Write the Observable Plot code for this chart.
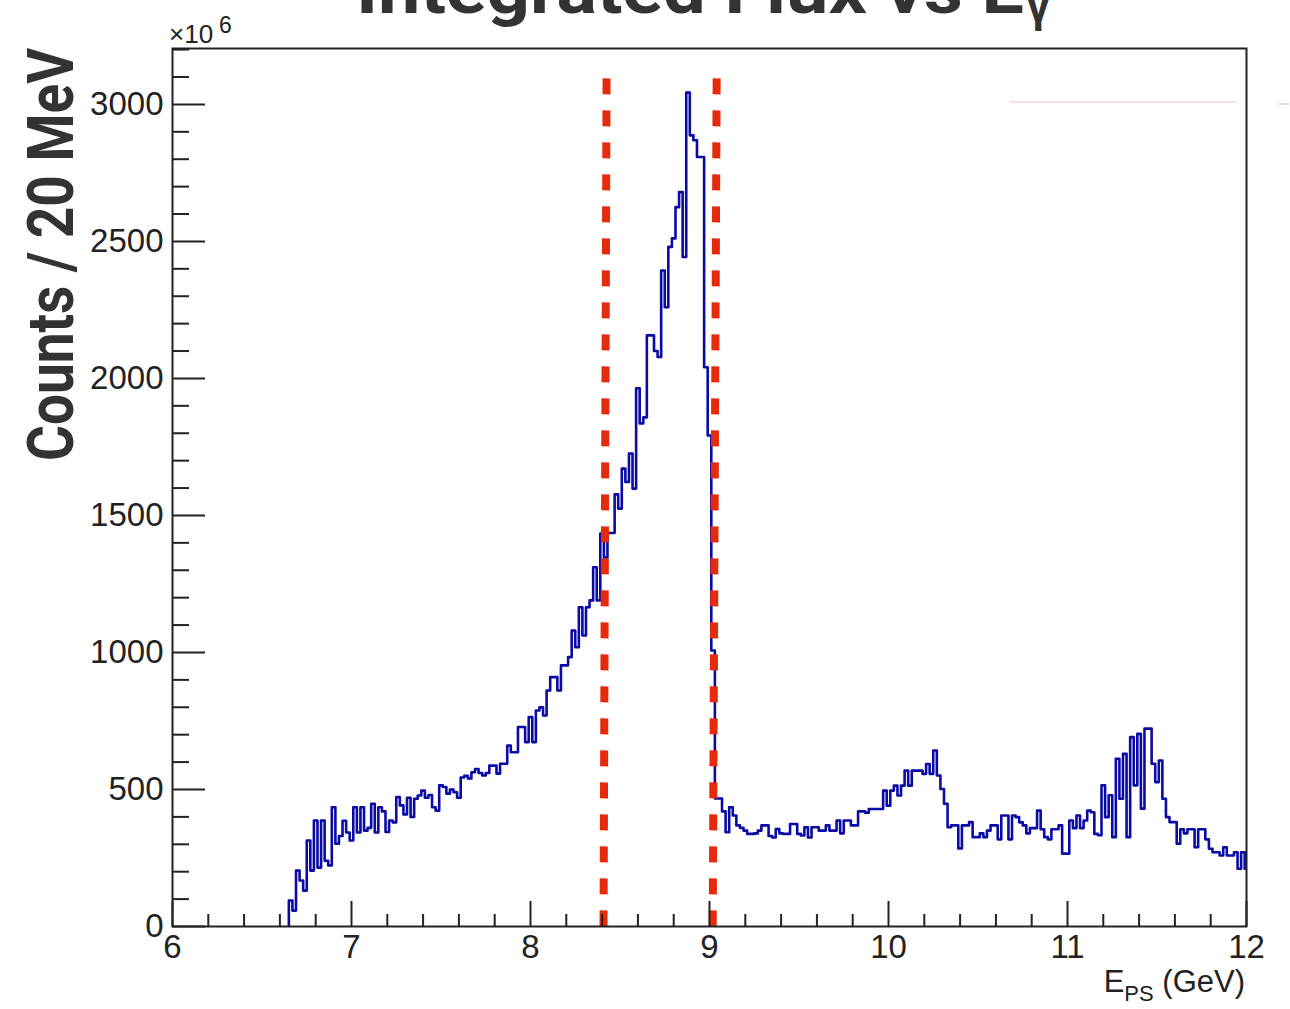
<!DOCTYPE html>
<html>
<head>
<meta charset="utf-8">
<script src="https://cdn.jsdelivr.net/npm/d3@7"></script>
<script src="https://cdn.jsdelivr.net/npm/@observablehq/plot@0.6"></script>
<style>
  html, body { margin: 0; padding: 0; background: #fff; }
  #wrap { position: relative; width: 1290px; height: 1009px; overflow: hidden; background: #fff; }
  #wrap > svg { position: absolute; left: 0; top: 0; }
</style>
</head>
<body>
<div id="wrap"></div>
<script>
// ---- Data (counts per 20 MeV bin, in units of 10^6) ----
const binLow = 6.65;      // lower edge of first filled bin (GeV)
const binWidth = 0.02;    // 20 MeV

// 6.65 – 7.73 GeV
const countsRise = [
  95, 58, 204, 168, 131, 314, 204, 387, 215, 387,
  240, 223, 435, 302, 330, 386, 343, 314, 435, 343,
  435, 350, 360, 448, 343, 435, 420, 345, 387, 380,
  472, 442, 409, 470, 400, 466, 478, 496, 470, 480,
  435, 423, 515, 509, 485, 500, 490, 470, 544, 550,
  540, 563, 575, 560
];
// 7.73 – 9.05 GeV
const countsPeak = [
  551, 560, 587, 587, 558, 594, 594, 660, 636, 636,
  728, 728, 673, 764, 673, 788, 800, 770, 861, 910,
  910, 861, 953, 953, 983, 1080, 1019, 1165, 1062, 1165,
  1190, 1311, 1190, 1434, 1347, 1436, 1436,
  1577, 1525, 1671, 1622, 1726, 1598, 1964, 1836, 1858, 2157,
  2157, 2100, 2078, 2394, 2260, 2480, 2511, 2625, 2680, 2443,
  3043, 2887, 2869, 2808, 2808, 2041, 1792, 1007, 467
];
// 9.05 – 10.33 GeV
const countsMid = [
  467, 420, 344, 435, 405, 369, 360, 350, 338, 338,
  340, 350, 369, 369, 330, 325, 356, 340, 338, 338,
  374, 374, 338, 332, 362, 325, 362, 362, 350, 350,
  369, 350, 350, 387, 340, 387, 387, 369, 369, 420,
  420, 415, 429, 429, 429, 429, 496, 441, 496, 514,
  478, 514, 569, 514, 569, 569, 569, 557, 593, 557,
  642, 551, 502, 448
];
// 10.33 – 12.01 GeV
const countsTail = [
  362, 369, 369, 285, 369, 369, 381, 326, 326, 340,
  326, 350, 369, 369, 318, 405, 405, 318, 405, 399,
  380, 369, 340, 359, 359, 423, 355, 326, 318, 355,
  355, 369, 266, 266, 387, 359, 405, 359, 387, 423,
  417, 338, 333, 515, 399, 479, 326, 612, 466, 630,
  326, 691, 515, 703, 430, 722, 722, 594, 527, 606,
  466, 399, 381, 381, 302, 355, 340, 355, 355, 289,
  355, 355, 318, 284, 271, 271, 259, 289, 259, 259,
  271, 211, 271, 211
];
const counts = [...countsRise, ...countsPeak, ...countsMid, ...countsTail];

// red dashed selection cuts (GeV) at the top and at the bottom of the frame
const cutTopX = [8.425, 9.040];
const cutBottomX = [8.408, 9.018];
const cutTop = 3095;

// axes
const xMajor = [6, 7, 8, 9, 10, 11, 12];
const xMinor = d3.range(30).map(i => 6 + i * 0.2).filter(v => Math.abs(v - Math.round(v)) > 1e-6);
const yMajor = [0, 500, 1000, 1500, 2000, 2500, 3000];
const yMinor = d3.range(0, 3201, 100).filter(v => v % 500 !== 0);

// ---- build step points ----
const steps = [{x: binLow, y: 0}];
counts.forEach((c, i) => steps.push({x: binLow + i * binWidth, y: c}));
steps.push({x: Math.min(12, binLow + counts.length * binWidth), y: counts[counts.length - 1]});

const cuts = cutTopX.map((t, i) => ({xTop: t, xBottom: cutBottomX[i]}));

const W = 1290, H = 1009;
const mL = 172, mR = 44, mT = 48, mB = 83;
const fw = W - mL - mR, fh = H - mT - mB;
const ink = "#222";

const plot = Plot.plot({
  width: W, height: H,
  marginLeft: mL, marginRight: mR, marginTop: mT, marginBottom: mB,
  x: {domain: [6, 12], label: null},
  y: {domain: [0, 3204], label: null},
  style: {fontFamily: "'Liberation Sans', Arial, Helvetica, sans-serif", fontSize: "33px", color: ink, background: "transparent", overflow: "visible"},
  marks: [
    Plot.line(steps, {x: "x", y: "y", curve: "step-after", stroke: "#0a0aa4", strokeWidth: 2.6, clip: true}),
    Plot.link(cuts, {x1: "xTop", x2: "xBottom", y1: cutTop, y2: 0, stroke: "#e62a0c", strokeWidth: 8, strokeDasharray: "16,16"}),
    Plot.tickX(xMinor, {x: d => d, insetTop: fh - 12, stroke: ink, strokeWidth: 2}),
    Plot.tickX(xMajor, {x: d => d, insetTop: fh - 25, stroke: ink, strokeWidth: 2}),
    Plot.tickY(yMinor, {y: d => d, insetRight: fw - 17, stroke: ink, strokeWidth: 2}),
    Plot.tickY(yMajor, {y: d => d, insetRight: fw - 33, stroke: ink, strokeWidth: 2}),
    Plot.frame({stroke: ink, strokeWidth: 2}),
    Plot.axisX({ticks: xMajor, tickSize: 0, tickPadding: 8, tickFormat: d => String(d), fontSize: 33, fill: ink}),
    Plot.axisY({ticks: yMajor, tickSize: 0, tickPadding: 9, tickFormat: d => String(d), fontSize: 33, fill: ink})
  ]
});
const wrap = document.getElementById("wrap");
wrap.appendChild(plot);

// ---- overlay text ----
const ns = "http://www.w3.org/2000/svg";
const ov = document.createElementNS(ns, "svg");
ov.setAttribute("width", W);
ov.setAttribute("height", H);
ov.innerHTML = `
  <g font-family="Roboto, 'DejaVu Sans', sans-serif" font-weight="700" fill="#333">
    <text x="356" y="13" font-size="66" textLength="668" lengthAdjust="spacingAndGlyphs">Integrated Flux vs E</text>
    <text x="1027" y="22" font-size="44">γ</text>
    <text transform="translate(73,461) rotate(-90)" font-size="65" textLength="413" lengthAdjust="spacingAndGlyphs">Counts / 20 MeV</text>
  </g>
  <g font-family="'Liberation Sans', Arial, Helvetica, sans-serif" fill="${ink}">
    <text x="169" y="43" font-size="26">×10</text>
    <text x="219" y="33" font-size="23">6</text>
    <text x="1245" y="992" font-size="31" text-anchor="end">E<tspan font-size="22" dy="9">PS</tspan><tspan dy="-9"> (GeV)</tspan></text>
  </g>
  <line x1="1010" y1="102" x2="1236" y2="102" stroke="#f3c4cc" stroke-width="1"/>
  <line x1="1279" y1="104" x2="1289" y2="104" stroke="#ddd" stroke-width="2"/>
`;
wrap.appendChild(ov);
</script>
</body>
</html>
